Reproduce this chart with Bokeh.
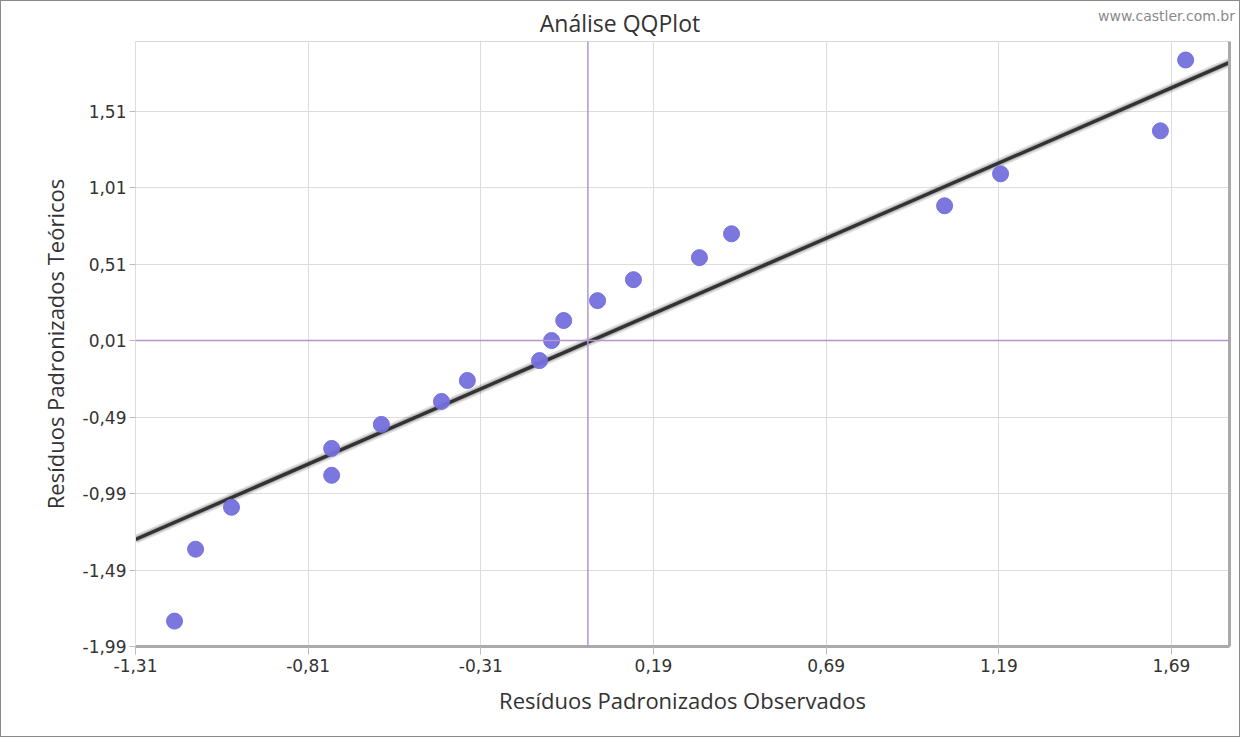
from bokeh.plotting import figure
from bokeh.models import (FixedTicker, CustomJSTickFormatter, Span, LinearAxis,
                          Div, Range1d)
from bokeh.layouts import column
from bokeh.embed import file_html
from bokeh.resources import INLINE

# data
obs = [-1.197, -1.136, -1.032, -0.742, -0.742, -0.598, -0.424, -0.349,
       -0.140, -0.105, -0.070, 0.028, 0.132, 0.323, 0.416, 1.033, 1.195,
       1.658, 1.731]
teo = [-1.824, -1.354, -1.080, -0.695, -0.871, -0.538, -0.388, -0.251,
       -0.121, 0.010, 0.141, 0.271, 0.408, 0.552, 0.708, 0.891, 1.100,
       1.381, 1.844]
line_x = [-1.31, 1.86]
line_y = [-1.29, 1.83]
x_ticks = [-1.31, -0.81, -0.31, 0.19, 0.69, 1.19, 1.69]
y_ticks = [-1.99, -1.49, -0.99, -0.49, 0.01, 0.51, 1.01, 1.51]
v_ref = 0.0
h_ref = 0.01
title_text = "Análise QQPlot"
source_text = "www.castler.com.br"

FONT = "DejaVu Sans"
LFONT = "Open Sans"

header = Div(
    text=(f'<div style="position:relative;width:1238px;height:40px;">'
          f'<span style="position:absolute;left:0;width:1238px;top:6px;'
          f'text-align:center;font-family:\'{LFONT}\';font-size:23px;'
          f'color:#333333;">{title_text}</span>'
          f'<span style="position:absolute;right:4px;top:5px;'
          f'font-family:\'{FONT}\';font-size:14px;color:#8a8a8a;">'
          f'{source_text}</span></div>'),
    width=1238, height=40, margin=(0, 0, 0, 0))

p = figure(width=1238, height=695, output_backend="svg", toolbar_location=None,
           x_range=Range1d(-1.31, 1.858), y_range=Range1d(-1.99, 1.965),
           min_border_left=134, min_border_right=10, min_border_top=0,
           min_border_bottom=90, background_fill_color="white",
           border_fill_color="white", margin=(0, 0, 0, 0))
p.outline_line_color = "#d8d8d8"

fmt = CustomJSTickFormatter(code="return tick.toFixed(2).replace('.', ',');")
p.xaxis.ticker = FixedTicker(ticks=x_ticks)
p.yaxis.ticker = FixedTicker(ticks=y_ticks)
p.xaxis.formatter = fmt
p.yaxis.formatter = fmt
for ax in (p.xaxis[0], p.yaxis[0]):
    ax.major_label_text_font = FONT
    ax.major_label_text_font_size = "17px"
    ax.major_label_text_color = "#333333"
    ax.minor_tick_line_color = None
    ax.major_tick_line_color = "#bbbbbb"
    ax.axis_label_text_font = LFONT
    ax.axis_label_text_font_size = "22px"
    ax.axis_label_text_font_style = "normal"
    ax.axis_label_text_color = "#333333"
p.xaxis.axis_label = "Resíduos Padronizados Observados"
p.yaxis.axis_label = "Resíduos Padronizados Teóricos"
p.xaxis.major_tick_out = 8
p.xaxis.major_tick_in = 0
p.yaxis.major_tick_out = 6
p.yaxis.major_tick_in = 0
p.xaxis.major_label_standoff = 4
p.yaxis.major_label_standoff = 3
p.xaxis.axis_line_color = "#aaaaaa"
p.xaxis.axis_line_width = 3
p.yaxis.axis_line_color = "#dddddd"
p.xaxis.axis_label_standoff = 10
p.yaxis.axis_label_standoff = 10

right = LinearAxis(major_tick_line_color=None, minor_tick_line_color=None,
                   major_label_text_font_size="0px", axis_line_color="#aaaaaa",
                   axis_line_width=3, ticker=FixedTicker(ticks=[]))
p.add_layout(right, "right")

p.xgrid.grid_line_color = "#dcdcdc"
p.ygrid.grid_line_color = "#dcdcdc"

p.add_layout(Span(location=v_ref, dimension="height", line_color="#b595cc",
                  line_width=1.5))
p.add_layout(Span(location=h_ref, dimension="width", line_color="#b595cc",
                  line_width=1.5))

# regression line with soft shadow
p.line(line_x, line_y, line_color="#000000", line_alpha=0.12, line_width=9)
p.line(line_x, line_y, line_color="#000000", line_alpha=0.15, line_width=6)
p.line(line_x, line_y, line_color="#333333", line_width=3.5)

p.scatter(obs, teo, size=16, fill_color="#7570dd", line_color="#7570dd",
          fill_alpha=0.95)

layout = column(header, p, spacing=0)
layout.styles = {"border": "1px solid #8a8a8a", "background-color": "white"}

open("out.html", "w").write(file_html(layout, INLINE))
